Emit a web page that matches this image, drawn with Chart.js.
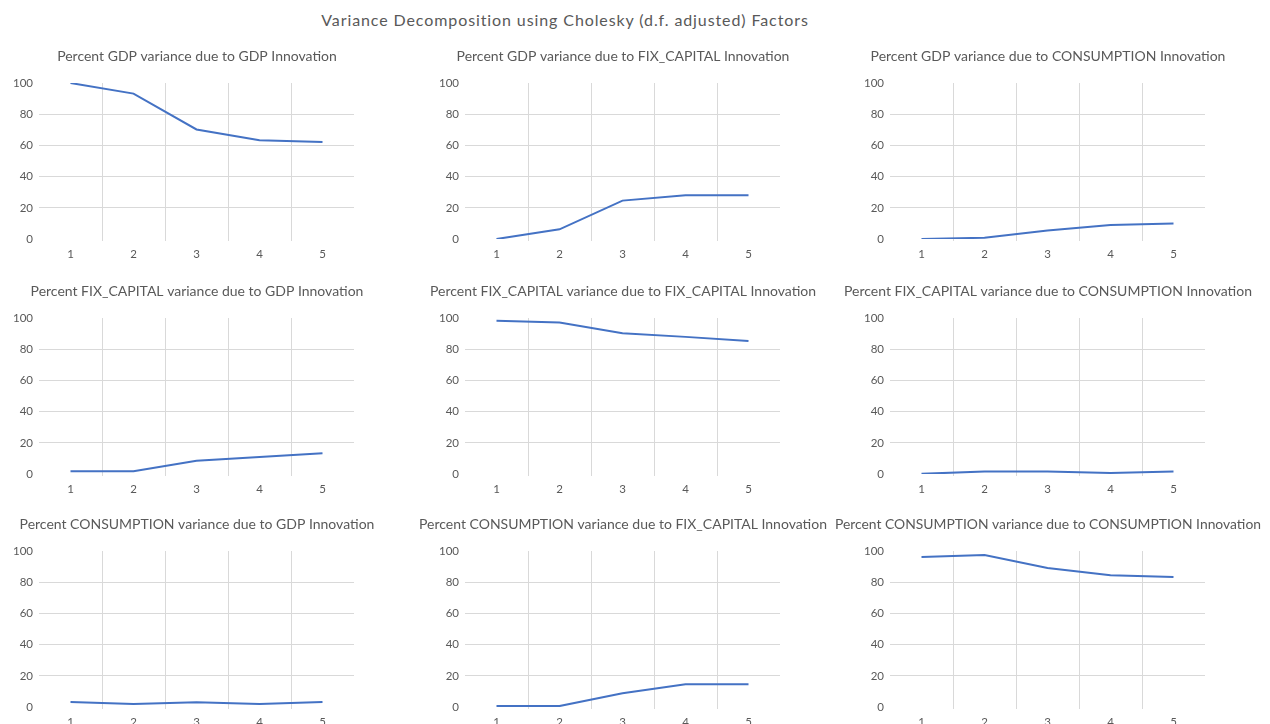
<!DOCTYPE html>
<html>
<head>
<meta charset="utf-8">
<script src="https://cdn.jsdelivr.net/npm/chart.js@4.4.1/dist/chart.umd.min.js"></script>
<style>
  html, body { margin: 0; padding: 0; background: #ffffff; overflow: hidden; }
  body { width: 1270px; height: 724px; position: relative; }
  #mainTitle { position: absolute; left: 0; width: 1130px; top: 10px; text-align: center;
    font-family: Lato, "Open Sans", sans-serif; font-size: 16px; letter-spacing: 0.9px; color: #595959; line-height: 20px; }
  canvas { position: absolute; }
</style>
</head>
<body>
<div id="mainTitle">Variance Decomposition using Cholesky (d.f. adjusted) Factors</div>
<script>
// ---- data ----
const periods = ['1', '2', '3', '4', '5'];
const yTickValues = [0, 20, 40, 60, 80, 100];

const gdpDueGdp = [100, 93.2, 70.2, 63.3, 62.2];
const gdpDueFixCapital = [0, 6.2, 24.6, 28.1, 28.1];
const gdpDueConsumption = [0, 0.8, 5.4, 8.9, 10.0];

const fixCapitalDueGdp = [1.7, 1.7, 8.5, 10.9, 13.3];
const fixCapitalDueFixCapital = [98.2, 97.1, 90.2, 87.9, 85.3];
const fixCapitalDueConsumption = [0.1, 1.6, 1.6, 0.7, 1.6];

const consumptionDueGdp = [3.2, 2.0, 3.1, 1.9, 3.2];
const consumptionDueFixCapital = [0.6, 0.6, 8.8, 14.6, 14.6];
const consumptionDueConsumption = [96.2, 97.4, 89.1, 84.5, 83.4];

const panelTitles = [
  'Percent GDP variance due to GDP Innovation',
  'Percent GDP variance due to FIX_CAPITAL Innovation',
  'Percent GDP variance due to CONSUMPTION Innovation',
  'Percent FIX_CAPITAL variance due to GDP Innovation',
  'Percent FIX_CAPITAL variance due to FIX_CAPITAL Innovation',
  'Percent FIX_CAPITAL variance due to CONSUMPTION Innovation',
  'Percent CONSUMPTION variance due to GDP Innovation',
  'Percent CONSUMPTION variance due to FIX_CAPITAL Innovation',
  'Percent CONSUMPTION variance due to CONSUMPTION Innovation'
];
const panelSeries = [
  gdpDueGdp, gdpDueFixCapital, gdpDueConsumption,
  fixCapitalDueGdp, fixCapitalDueFixCapital, fixCapitalDueConsumption,
  consumptionDueGdp, consumptionDueFixCapital, consumptionDueConsumption
];

// ---- layout ----
const colCenters = [197, 622.5, 1048];
const canvasTops = [48, 283, 516];
const CW = 426, CH = 213;
const Y_AXIS_W = 55, RIGHT_W = 56, X_AXIS_H = 22;
const FONT = 'Lato, "Open Sans", sans-serif';
const TEXT = '#595959', GRID = '#D9D9D9', LINE = '#4472C4';
const NONE = 'rgba(0,0,0,0)';

for (let i = 0; i < 9; i++) {
  const r = Math.floor(i / 3), c = i % 3;
  const cv = document.createElement('canvas');
  cv.width = CW; cv.height = CH;
  cv.style.left = Math.round(colCenters[c] - CW / 2) + 'px';
  cv.style.top = canvasTops[r] + 'px';
  cv.style.width = CW + 'px'; cv.style.height = CH + 'px';
  document.body.appendChild(cv);

  new Chart(cv, {
    type: 'line',
    data: {
      labels: periods,
      datasets: [{
        data: panelSeries[i],
        borderColor: LINE,
        borderWidth: 2,
        pointRadius: 0,
        pointHoverRadius: 0,
        fill: false,
        tension: 0
      }]
    },
    options: {
      responsive: false,
      animation: false,
      events: [],
      layout: { padding: 0 },
      plugins: {
        legend: { display: false },
        tooltip: { enabled: false },
        title: {
          display: true,
          text: panelTitles[i],
          color: TEXT,
          font: { family: FONT, size: 14, weight: 'normal', lineHeight: '16px' },
          padding: { top: 0, bottom: 19 }
        }
      },
      scales: {
        x: {
          type: 'category',
          offset: true,
          border: { display: false },
          grid: {
            offset: true,
            drawTicks: true,
            tickLength: 2,
            color: (ctx) => (ctx.type !== 'tick' || ctx.index === 0) ? NONE : GRID,
            tickColor: (ctx) => (ctx.type !== 'tick' || ctx.index === 0) ? NONE : GRID,
            lineWidth: 1
          },
          ticks: { color: TEXT, font: { family: FONT, size: 11.5 }, padding: 6, maxRotation: 0 },
          afterFit: (s) => { s.height = X_AXIS_H; }
        },
        y: {
          position: 'left',
          min: 0,
          max: 100,
          afterBuildTicks: (s) => { s.ticks = yTickValues.map(v => ({ value: v })); },
          border: { display: false },
          grid: {
            drawTicks: false,
            color: (ctx) => (ctx.tick && (ctx.tick.value === 0 || ctx.tick.value === 100)) ? NONE : GRID,
            lineWidth: 1
          },
          ticks: { color: TEXT, font: { family: FONT, size: 11.5 }, padding: 6 },
          afterFit: (s) => { s.width = Y_AXIS_W; }
        },
        yRight: {
          type: 'linear',
          position: 'right',
          display: true,
          border: { display: false },
          grid: { display: false, drawTicks: false },
          ticks: { display: false },
          afterFit: (s) => { s.width = RIGHT_W; }
        }
      }
    }
  });
}
</script>
</body>
</html>
